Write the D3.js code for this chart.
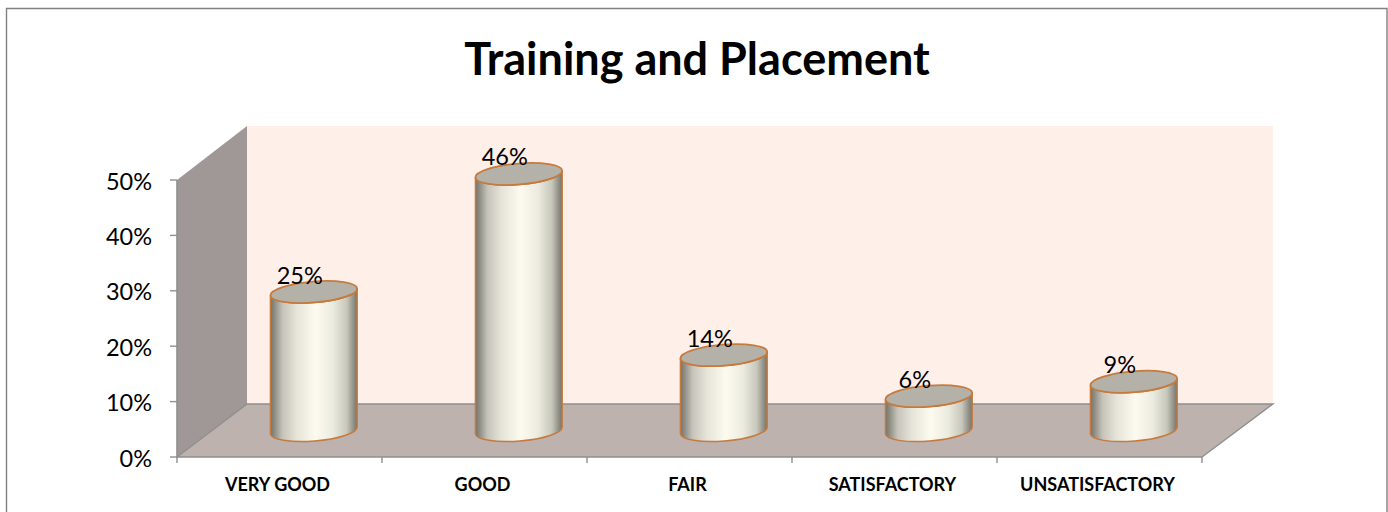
<!DOCTYPE html>
<html><head><meta charset="utf-8">
<script src="https://cdn.jsdelivr.net/npm/d3@7"></script>
<style>html,body{margin:0;padding:0;background:#fff}svg{display:block}text{font-family:Lato,"Open Sans",sans-serif;fill:#000}</style>
</head><body>
<svg id="c" width="1388" height="512"></svg>
<script>
const titleText = "Training and Placement";
const categories = ["VERY GOOD","GOOD","FAIR","SATISFACTORY","UNSATISFACTORY"];
const values = [25,46.3,13.6,6.2,8.8];
const valueLabels = ["25%","46%","14%","6%","9%"];
const yTicks = [0,10,20,30,40,50];

const svg = d3.select("#c");
const x = d3.scaleBand().domain(categories).range([177,1202]);
const y = d3.scaleLinear().domain([0,50]).range([457,180]);
const depth = {dx:70, dy:-53};
const line = d3.line();

const defs = svg.append("defs");
const grad = defs.append("linearGradient").attr("id","cyl").attr("x1",0).attr("x2",1).attr("y1",0).attr("y2",0);
[[0,"#73736b"],[0.06,"#96958c"],[0.14,"#c6c4ba"],[0.3,"#e6e4d9"],[0.52,"#fdfbf0"],[0.72,"#ecebe0"],[0.88,"#c8c7bc"],[1,"#74746c"]]
  .forEach(([o,c])=>grad.append("stop").attr("offset",o).attr("stop-color",c));

// chart frame
svg.append("path").attr("d","M6.5,512V8.5H1387V512").attr("fill","none").attr("stroke","#808080").attr("stroke-width",1.4);

const [x0,x1] = x.range(), y0=y(0), y5=y(50);
// walls
svg.append("path").attr("d",line([[x0+depth.dx,y5+depth.dy-1],[x1+depth.dx+1,y5+depth.dy-1],[x1+depth.dx+1,y0+depth.dy],[x0+depth.dx,y0+depth.dy]])+"Z").attr("fill","#feefe8");
svg.append("path").attr("d",line([[x0,y5],[x0+depth.dx,y5+depth.dy-1],[x0+depth.dx,y0+depth.dy],[x0,y0]])+"Z").attr("fill","#a09896");
svg.append("path").attr("d",line([[x0,y0],[x0+depth.dx,y0+depth.dy],[x1+depth.dx+1,y0+depth.dy],[x1,y0]])+"Z").attr("fill","#bdb2ae");
// floor / wall edges
const edge = "#8f8f8f";
svg.append("path").attr("d",line([[x0,y0],[x0+depth.dx,y0+depth.dy],[x1+depth.dx+1,y0+depth.dy],[x1,y0]])).attr("fill","none").attr("stroke",edge).attr("stroke-width",1.4);
// axes lines + ticks
svg.append("path").attr("d",line([[x0,y5],[x0,y0],[x1,y0]])).attr("fill","none").attr("stroke",edge).attr("stroke-width",1.6);
svg.selectAll(".yt").data(yTicks).join("line").attr("x1",x0-7).attr("x2",x0).attr("y1",d=>y(d)).attr("y2",d=>y(d)).attr("stroke",edge).attr("stroke-width",1.4);
svg.selectAll(".xt").data([...categories.map(c=>x(c)),x1]).join("line").attr("x1",d=>d).attr("x2",d=>d).attr("y1",y0).attr("y2",y0+6).attr("stroke",edge).attr("stroke-width",1.4);
// y labels
svg.selectAll(".yl").data(yTicks).join("text").attr("x",x0-25).attr("y",d=>y(d)+9.5).attr("text-anchor","end").attr("font-size",23.5).text(d=>d+"%");
// x labels
svg.selectAll(".xl").data(categories).join("text").attr("x",d=>x(d)+x.bandwidth()/2-2).attr("y",491).attr("text-anchor","middle").attr("font-size",18).attr("font-weight",700).text(d=>d);
// cylinders
const rx=43.5, ry=10.5, tilt=Math.atan2(7,87);
const deg=tilt*180/Math.PI;
const ex=rx*Math.cos(tilt), ey=rx*Math.sin(tilt);
categories.forEach((c,i)=>{
  const cx=x(c)+x.bandwidth()/2+depth.dx/2-0.7;
  const by=y(0)+depth.dy/2, ty=y(values[i])+depth.dy/2;
  const g=svg.append("g");
  g.append("path").attr("d",`M${cx-ex},${ty+ey}L${cx-ex},${by+ey}A${rx},${ry} ${-deg} 0 0 ${cx+ex},${by-ey}L${cx+ex},${ty-ey}A${rx},${ry} ${-deg} 0 1 ${cx-ex},${ty+ey}Z`)
    .attr("fill","url(#cyl)").attr("stroke","#c67a3c").attr("stroke-width",1.5);
  g.append("ellipse").attr("cx",0).attr("cy",0).attr("rx",rx).attr("ry",ry)
    .attr("transform",`translate(${cx},${ty}) rotate(${-deg})`)
    .attr("fill","#b4b1a9").attr("stroke","#c67a3c").attr("stroke-width",1.8);
  g.append("text").attr("x",cx-14).attr("y",ty-8.5).attr("text-anchor","middle").attr("font-size",23.5).text(valueLabels[i]);
});
// title
svg.append("text").attr("x",697).attr("y",75).attr("text-anchor","middle").attr("font-size",45).attr("font-weight",700).text(titleText);
</script>
</body></html>
